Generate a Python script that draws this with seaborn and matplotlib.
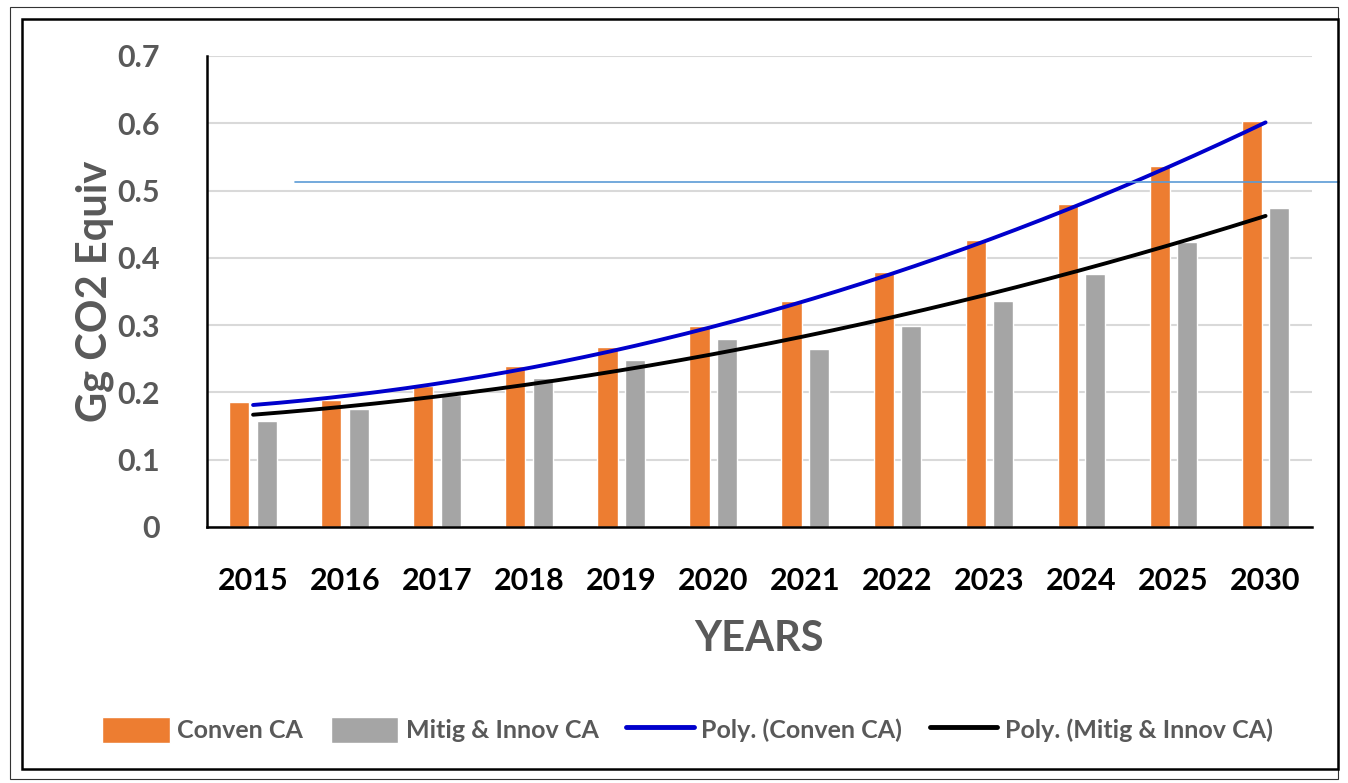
import numpy as np
import pandas as pd
import matplotlib.pyplot as plt
import seaborn as sns
from matplotlib.patches import Patch, Rectangle
from matplotlib.lines import Line2D

# values
years = ["2015", "2016", "2017", "2018", "2019", "2020",
         "2021", "2022", "2023", "2024", "2025", "2030"]
conven_ca = [0.186, 0.189, 0.209, 0.239, 0.267, 0.299,
             0.336, 0.379, 0.427, 0.480, 0.536, 0.603]
mitig_ca = [0.158, 0.175, 0.196, 0.221, 0.248, 0.279,
            0.265, 0.299, 0.336, 0.376, 0.423, 0.474]
series_names = ["Conven CA", "Mitig & Innov CA"]
ref_level = 0.513  # thin blue horizontal line

ORANGE = "#ED7D31"
GRAY = "#A5A5A5"
TEXT = "#595959"

df = pd.DataFrame({
    "year": years * 2,
    "value": conven_ca + mitig_ca,
    "series": [series_names[0]] * len(years) + [series_names[1]] * len(years),
})

sns.set_theme(style="white")
plt.rcParams["font.family"] = ["Lato", "DejaVu Sans"]

fig = plt.figure(figsize=(13.48, 7.83), dpi=100)
ax = fig.add_axes([0.1536, 0.327, 0.8194, 0.6015])

sns.barplot(data=df, x="year", y="value", hue="series",
            palette=[ORANGE, GRAY], width=0.6, gap=0.27,
            legend=False, ax=ax, saturation=1)

# Excel style order-2 polynomial trendlines
x = np.arange(len(years))
xs = np.linspace(0, len(years) - 1, 200)
for vals, col in [(conven_ca, "#0000CC"), (mitig_ca, "black")]:
    coef = np.polyfit(x + 1, vals, 2)
    ax.plot(xs, np.polyval(coef, xs + 1), color=col, lw=2.8,
            solid_capstyle="round", zorder=4)

ax.axhline(ref_level, xmin=0.08, xmax=1.025, color="#5B9BD5", lw=1.2,
           clip_on=False, zorder=5)

ax.set_ylim(0, 0.7)
ax.set_xlim(-0.5, len(years) - 0.5)
ax.set_yticks(np.arange(0, 0.71, 0.1))
ax.set_yticklabels(["0", "0.1", "0.2", "0.3", "0.4", "0.5", "0.6", "0.7"])
ax.yaxis.grid(True, color="#D9D9D9", lw=1.5)
ax.set_axisbelow(True)
for s in ["top", "right"]:
    ax.spines[s].set_visible(False)
for s in ["left", "bottom"]:
    ax.spines[s].set_color("black")
    ax.spines[s].set_linewidth(1.8)
ax.tick_params(axis="y", length=0, pad=34, labelsize=22, labelcolor=TEXT)
ax.tick_params(axis="x", length=0, pad=29, labelsize=22, labelcolor="black")
for lab in ax.get_xticklabels() + ax.get_yticklabels():
    lab.set_fontweight("bold")

ax.set_xlabel("YEARS", fontsize=30, fontweight="bold", color=TEXT, labelpad=18)
ax.set_ylabel("Gg CO2 Equiv", fontsize=30, fontweight="bold", color=TEXT, labelpad=2)

handles = [Patch(facecolor=ORANGE), Patch(facecolor=GRAY),
           Line2D([], [], color="#0000CC", lw=3.5),
           Line2D([], [], color="black", lw=3.5)]
labels = [series_names[0], series_names[1],
          "Poly. (" + series_names[0] + ")", "Poly. (" + series_names[1] + ")"]
leg = fig.legend(handles, labels, loc="center", bbox_to_anchor=(0.51, 0.068),
                 ncol=4, frameon=False, fontsize=18, handlelength=2.7,
                 handleheight=1.25, handletextpad=0.3, columnspacing=1.1)
for t in leg.get_texts():
    t.set_color(TEXT)
    t.set_fontweight("bold")

# double frame around the chart
fig.patches.append(Rectangle((10 / 1348, 4 / 783), 1328 / 1348, 772 / 783,
                             transform=fig.transFigure, fill=False,
                             edgecolor="#333333", lw=0.8))
fig.patches.append(Rectangle((22 / 1348, 14 / 783), 1316 / 1348, 750 / 783,
                             transform=fig.transFigure, fill=False,
                             edgecolor="black", lw=1.8))

fig.savefig("out.png", dpi=100)
